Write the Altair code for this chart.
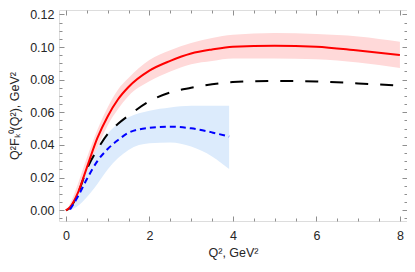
import altair as alt
import pandas as pd

# ---- data ----
x_red = [0, 0.1, 0.3, 0.5, 0.75, 1, 1.25, 1.5, 2, 2.5, 3, 3.5, 4, 5, 6, 7, 8]
red_mid = [0, 0.002, 0.0115, 0.026, 0.044, 0.0575, 0.068, 0.0755, 0.0855, 0.0915, 0.096, 0.0985, 0.1002, 0.1008, 0.1002, 0.0978, 0.0951]
red_hi = [0, 0.004, 0.017, 0.032, 0.049, 0.063, 0.074, 0.081, 0.092, 0.098, 0.1025, 0.1055, 0.1075, 0.1085, 0.108, 0.1065, 0.1032]
red_lo = [0, 0.0005, 0.007, 0.021, 0.038, 0.052, 0.062, 0.070, 0.079, 0.085, 0.0895, 0.0915, 0.093, 0.093, 0.0925, 0.0905, 0.0871]
black_mid = [0, 0.0015, 0.011, 0.025, 0.037, 0.0467, 0.053, 0.058, 0.0668, 0.0722, 0.075, 0.0772, 0.0785, 0.0792, 0.0789, 0.0777, 0.0763]

x_blue = [0.1, 0.3, 0.5, 0.75, 1, 1.25, 1.5, 2, 2.5, 3, 3.5, 3.91]
blue_mid = [0.0005, 0.009, 0.019, 0.030, 0.0375, 0.043, 0.0475, 0.0505, 0.0512, 0.0502, 0.0477, 0.0451]
blue_hi = [0.002, 0.012, 0.025, 0.038, 0.047, 0.053, 0.057, 0.061, 0.063, 0.064, 0.064, 0.064]
blue_lo = [0.0, 0.003, 0.008, 0.016, 0.025, 0.032, 0.037, 0.041, 0.0415, 0.039, 0.033, 0.0253]

x_major = [0, 2, 4, 6, 8]
x_minor = [0.5, 1, 1.5, 2.5, 3, 3.5, 4.5, 5, 5.5, 6.5, 7, 7.5]
y_major = [0.0, 0.02, 0.04, 0.06, 0.08, 0.10, 0.12]
y_minor = [-0.005, 0.005, 0.01, 0.015, 0.025, 0.03, 0.035, 0.045, 0.05, 0.055,
           0.065, 0.07, 0.075, 0.085, 0.09, 0.095, 0.105, 0.11, 0.115]

x_title = "Q², GeV²"
y_title = "Q²Fₖ⁰(Q²), GeV²"

X_DOMAIN = [-0.165, 8.17]
Y_DOMAIN = [-0.00655, 0.12266]

red_df = pd.DataFrame({"x": x_red, "mid": red_mid, "hi": red_hi, "lo": red_lo, "black": black_mid})
blue_df = pd.DataFrame({"x": x_blue, "mid": blue_mid, "hi": blue_hi, "lo": blue_lo})

FRAME = "#8f8f8f"
LABEL = "#262626"
FONT = "Liberation Sans"


def make_axis(orient, values, size, labels=False, title=None, fmt=None, **extra):
    kw = dict(orient=orient, values=values, tickSize=size, offset=-size,
              domain=False, grid=False, labels=labels, tickColor=FRAME,
              tickWidth=1, labelFont=FONT, labelFontSize=12.5, labelColor=LABEL)
    if fmt:
        kw["format"] = fmt
    if title:
        kw.update(title=title, titleFont=FONT, titleFontSize=12.5,
                  titleColor=LABEL, titleFontWeight="normal",
                  titleBaseline="alphabetic")
    else:
        kw["title"] = ""
    kw.update(extra)
    return alt.Axis(**kw)


def xenc(field, axis):
    return alt.X(field, type="quantitative",
                 scale=alt.Scale(domain=X_DOMAIN, nice=False, zero=False),
                 axis=axis)


def yenc(field, axis):
    return alt.Y(field, type="quantitative",
                 scale=alt.Scale(domain=Y_DOMAIN, nice=False, zero=False),
                 axis=axis)


red_band = alt.Chart(red_df).mark_area(color="#ffd9d9", interpolate="monotone").encode(
    x=xenc("x", make_axis("bottom", x_major, 5, labels=True, title=x_title,
                          labelPadding=8, titleY=40)),
    y=yenc("hi", make_axis("left", y_major, 5, labels=True, title=y_title, fmt=".2f",
                           labelPadding=5, titleX=-46, titleAngle=270)),
    y2="lo",
)

blue_band = alt.Chart(blue_df).mark_area(color="#dcebfc", interpolate="monotone").encode(
    x=xenc("x", make_axis("bottom", x_minor, 3)),
    y=yenc("hi", make_axis("left", y_minor, 3)),
    y2="lo",
)

black_line = alt.Chart(red_df).mark_line(color="black", strokeWidth=2,
                                          strokeDash=[13, 12], interpolate="monotone").encode(
    x=xenc("x", make_axis("top", x_major, 5)),
    y=yenc("black", make_axis("right", y_major, 5)),
)

red_line = alt.Chart(red_df).mark_line(color="#ff0000", strokeWidth=2,
                                        interpolate="monotone").encode(
    x=xenc("x", make_axis("top", x_minor, 3)),
    y=yenc("mid", make_axis("right", y_minor, 3)),
)

blue_line = alt.Chart(blue_df).mark_line(color="#0000ff", strokeWidth=2,
                                          strokeDash=[6, 4], interpolate="monotone").encode(
    x=xenc("x", None),
    y=yenc("mid", None),
)

chart = alt.layer(red_band, blue_band, black_line, red_line, blue_line).resolve_scale(
    x="independent", y="independent"
).properties(
    width=348, height=211,
    autosize=alt.AutoSizeParams(type="none"),
    padding={"left": 51, "top": 2, "right": 0, "bottom": 43},
).configure_view(stroke=FRAME, strokeWidth=1).configure(background="white")

chart.save("out.html", embed_options={"renderer": "svg", "actions": False})
